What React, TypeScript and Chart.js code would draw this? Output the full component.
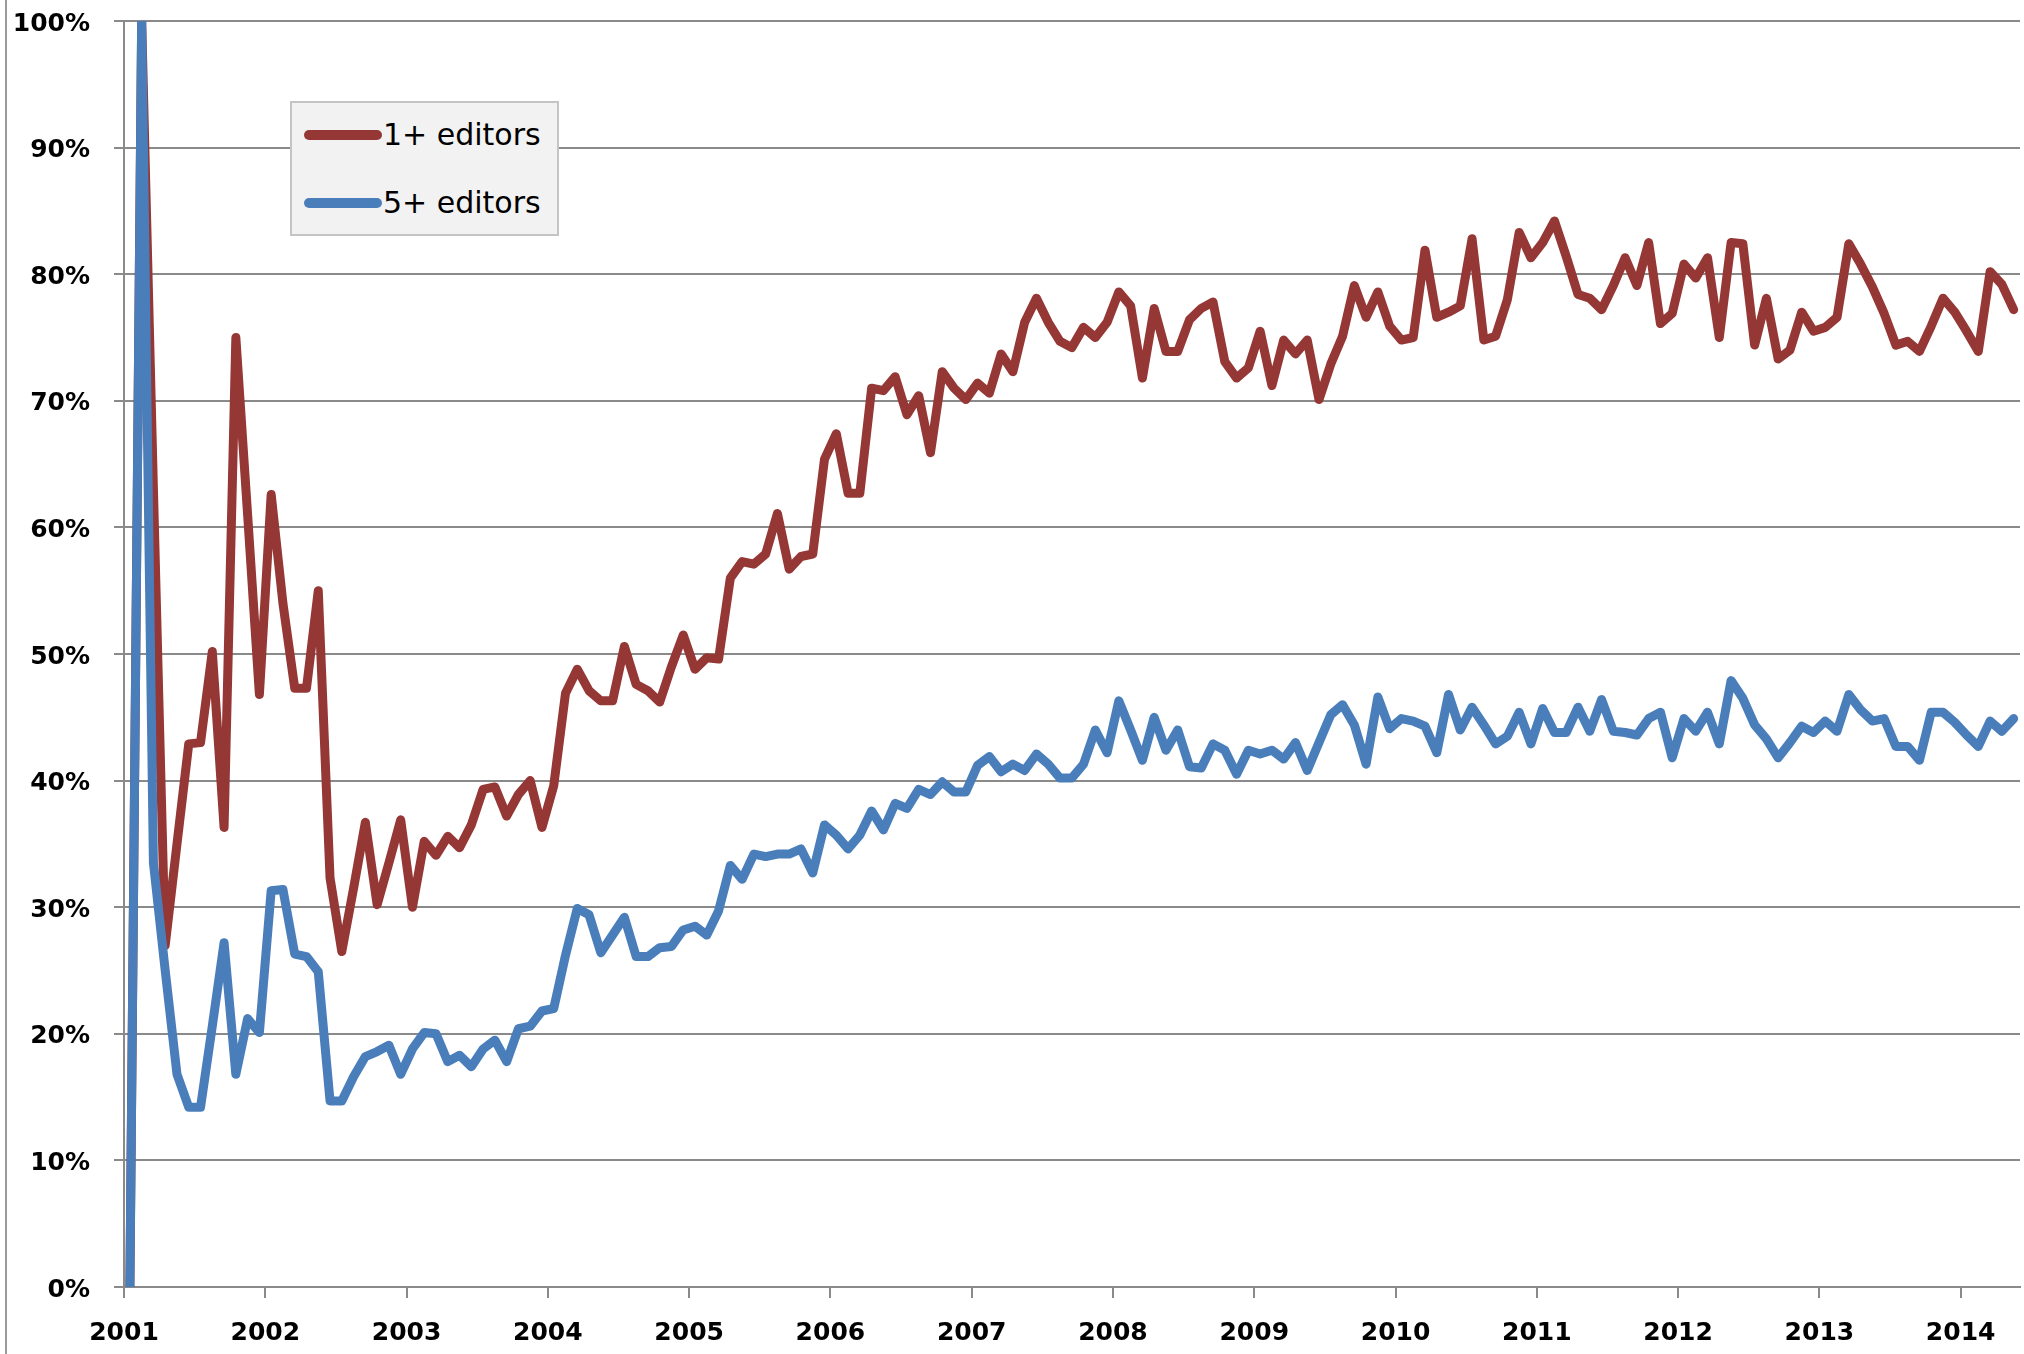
import React, { useEffect, useRef } from "react";
import { Chart, registerables } from "chart.js";

Chart.register(...registerables);

// ---- data (monthly, Jan 2001 .. May 2014) ----
const START_YEAR = 2001;
const seriesNames = ["1+ editors", "5+ editors"];
const yearTicks = [2001, 2002, 2003, 2004, 2005, 2006, 2007, 2008, 2009, 2010, 2011, 2012, 2013, 2014];
const percentTicks = [0, 10, 20, 30, 40, 50, 60, 70, 80, 90, 100];

const oneEditorPct = [
  0, 100, 63, 27, 35, 42.9, 43, 50.2, 36.3, 75, 61, 46.8,
  62.6, 54, 47.3, 47.3, 55, 32.3, 26.5, 31.5, 36.7, 30.2, 33.5, 36.9,
  30.0, 35.2, 34.1, 35.6, 34.7, 36.5, 39.3, 39.5, 37.2, 38.9, 40.0, 36.3,
  39.6, 46.9, 48.8, 47.1, 46.3, 46.3, 50.6, 47.6, 47.1, 46.2, 49.0, 51.5,
  48.8, 49.7, 49.6, 56.0, 57.3, 57.1, 57.9, 61.1, 56.7, 57.7, 57.9, 65.4,
  67.4, 62.7, 62.7, 71.0, 70.8, 71.9, 68.9, 70.4, 65.9, 72.3, 71.0, 70.1,
  71.4, 70.6, 73.7, 72.3, 76.2, 78.1, 76.2, 74.7, 74.2, 75.8, 75.0, 76.2,
  78.6, 77.5, 71.8, 77.3, 73.9, 73.9, 76.4, 77.3, 77.8, 73.1, 71.8, 72.6,
  75.5, 71.2, 74.8, 73.7, 74.8, 70.1, 72.9, 75.1, 79.1, 76.6, 78.6, 75.9,
  74.8, 75.0, 81.9, 76.6, 77.0, 77.5, 82.8, 74.8, 75.1, 78.0, 83.3, 81.3,
  82.5, 84.2, 81.4, 78.4, 78.1, 77.2, 79.1, 81.3, 79.1, 82.5, 76.1, 76.9,
  80.8, 79.7, 81.3, 75.0, 82.5, 82.4, 74.4, 78.1, 73.3, 74.0, 77.0, 75.5,
  75.8, 76.6, 82.4, 80.8, 79.0, 76.9, 74.4, 74.7, 73.9, 75.9, 78.1, 77.0,
  75.5, 73.9, 80.2, 79.2, 77.2,
];

const fiveEditorPct = [
  0, 100, 33.5, 25, 16.8, 14.2, 14.2, 20.6, 27.2, 16.8, 21.2, 20.1,
  31.3, 31.4, 26.3, 26.1, 24.9, 14.7, 14.7, 16.6, 18.2, 18.6, 19.1, 16.8,
  18.8, 20.1, 20.0, 17.8, 18.3, 17.4, 18.8, 19.5, 17.8, 20.4, 20.6, 21.8,
  22.0, 26.2, 29.9, 29.4, 26.4, 27.8, 29.2, 26.1, 26.1, 26.8, 26.9, 28.2,
  28.5, 27.8, 29.7, 33.3, 32.2, 34.2, 34.0, 34.2, 34.2, 34.6, 32.7, 36.5,
  35.7, 34.6, 35.7, 37.6, 36.1, 38.2, 37.8, 39.3, 38.9, 39.9, 39.1, 39.1,
  41.2, 41.9, 40.7, 41.3, 40.8, 42.1, 41.3, 40.2, 40.2, 41.3, 44.0, 42.2,
  46.3, 44.0, 41.6, 45.0, 42.4, 44.0, 41.1, 41.0, 42.9, 42.4, 40.5, 42.4,
  42.1, 42.4, 41.7, 43.0, 40.8, 43.0, 45.2, 46.0, 44.4, 41.3, 46.6, 44.1,
  44.9, 44.7, 44.3, 42.2, 46.8, 44.0, 45.8, 44.4, 42.9, 43.5, 45.4, 42.9,
  45.7, 43.8, 43.8, 45.8, 43.9, 46.4, 43.9, 43.8, 43.6, 44.9, 45.4, 41.8,
  44.9, 43.9, 45.4, 42.9, 47.9, 46.5, 44.4, 43.3, 41.8, 43.0, 44.3, 43.8,
  44.7, 43.9, 46.8, 45.6, 44.7, 44.9, 42.7, 42.7, 41.6, 45.4, 45.4, 44.6,
  43.6, 42.7, 44.7, 43.9, 44.9,
];

const RED = "#953735";
const BLUE = "#4a7ebb";
const GRID = "#8a8a8a";

// month i plotted at the middle of its month
const toPoints = (vals: number[]) =>
  vals.map((v, i) => ({ x: START_YEAR + (i + 0.5) / 12, y: v }));

export default function App() {
  const canvasRef = useRef<HTMLCanvasElement | null>(null);

  useEffect(() => {
    const canvas = canvasRef.current;
    if (!canvas) return;
    const tickFont = { family: "DejaVu Sans", weight: "bold" as const, size: 25 };
    const chart = new Chart(canvas, {
      type: "line",
      data: {
        datasets: [
          {
            label: seriesNames[0],
            data: toPoints(oneEditorPct),
            borderColor: RED,
            backgroundColor: RED,
            borderWidth: 9,
            pointRadius: 0,
            tension: 0,
            borderJoinStyle: "round",
            borderCapStyle: "round",
            order: 1,
            clip: 0,
          },
          {
            label: seriesNames[1],
            data: toPoints(fiveEditorPct),
            borderColor: BLUE,
            backgroundColor: BLUE,
            borderWidth: 9,
            pointRadius: 0,
            tension: 0,
            borderJoinStyle: "round",
            borderCapStyle: "round",
            order: 0,
            clip: 0,
          },
        ],
      },
      options: {
        animation: false,
        responsive: false,
        maintainAspectRatio: false,
        events: [],
        layout: { padding: { top: 21, right: 4, left: 0, bottom: 0 } },
        plugins: {
          legend: { display: false },
          tooltip: { enabled: false },
          title: { display: false },
        },
        scales: {
          x: {
            type: "linear",
            min: yearTicks[0],
            max: 2014.42,
            afterBuildTicks: (scale: any) => {
              scale.ticks = yearTicks.map((v) => ({ value: v }));
            },
            afterFit: (scale: any) => {
              scale.height = 67;
              scale.paddingLeft = 0;
              scale.paddingRight = 0;
            },
            grid: {
              drawOnChartArea: false,
              drawTicks: true,
              tickLength: 11,
              color: GRID,
              lineWidth: 2,
            },
            border: { display: true, color: GRID, width: 2 },
            ticks: {
              autoSkip: false,
              maxRotation: 0,
              color: "#000",
              font: tickFont,
              padding: 20,
              callback: (v: any) => String(v),
            },
          },
          y: {
            type: "linear",
            min: 0,
            max: 100,
            afterBuildTicks: (scale: any) => {
              scale.ticks = percentTicks.map((v) => ({ value: v }));
            },
            afterFit: (scale: any) => {
              scale.width = 124;
              scale.paddingTop = 0;
              scale.paddingBottom = 0;
            },
            grid: {
              drawTicks: true,
              tickLength: 10,
              color: GRID,
              lineWidth: 2,
            },
            border: { display: true, color: GRID, width: 2 },
            ticks: {
              color: "#000",
              font: tickFont,
              padding: 24,
              labelOffset: 3,
              callback: (v: any) => `${v}%`,
            },
          },
        },
      },
    } as any);
    return () => chart.destroy();
  }, []);

  const legendRow = (label: string, color: string, cy: number) => (
    <React.Fragment key={label}>
      <div
        style={{
          position: "absolute",
          left: 304,
          top: cy - 5,
          width: 78,
          height: 10,
          borderRadius: 5,
          background: color,
        }}
      />
      <div
        style={{
          position: "absolute",
          left: 383,
          top: cy - 20,
          height: 40,
          lineHeight: "40px",
          fontFamily: "DejaVu Sans",
          fontSize: 30,
          color: "#000",
          whiteSpace: "nowrap",
        }}
      >
        {label}
      </div>
    </React.Fragment>
  );

  return (
    <div
      style={{
        position: "absolute",
        left: 0,
        top: 0,
        width: 2024,
        height: 1354,
        background: "#fff",
        overflow: "hidden",
      }}
    >
      <canvas
        ref={canvasRef}
        width={2024}
        height={1354}
        style={{ position: "absolute", left: 0, top: 0, width: 2024, height: 1354, display: "block" }}
      />
      <div
        style={{
          position: "absolute",
          left: 5,
          top: 0,
          width: 2,
          height: 1354,
          background: "#9a9a9a",
        }}
      />
      <div
        style={{
          position: "absolute",
          left: 290,
          top: 101,
          width: 269,
          height: 135,
          boxSizing: "border-box",
          background: "#f2f2f2",
          border: "2px solid #c4c4c4",
        }}
      />
      {legendRow(seriesNames[0], RED, 135)}
      {legendRow(seriesNames[1], BLUE, 203)}
    </div>
  );
}
